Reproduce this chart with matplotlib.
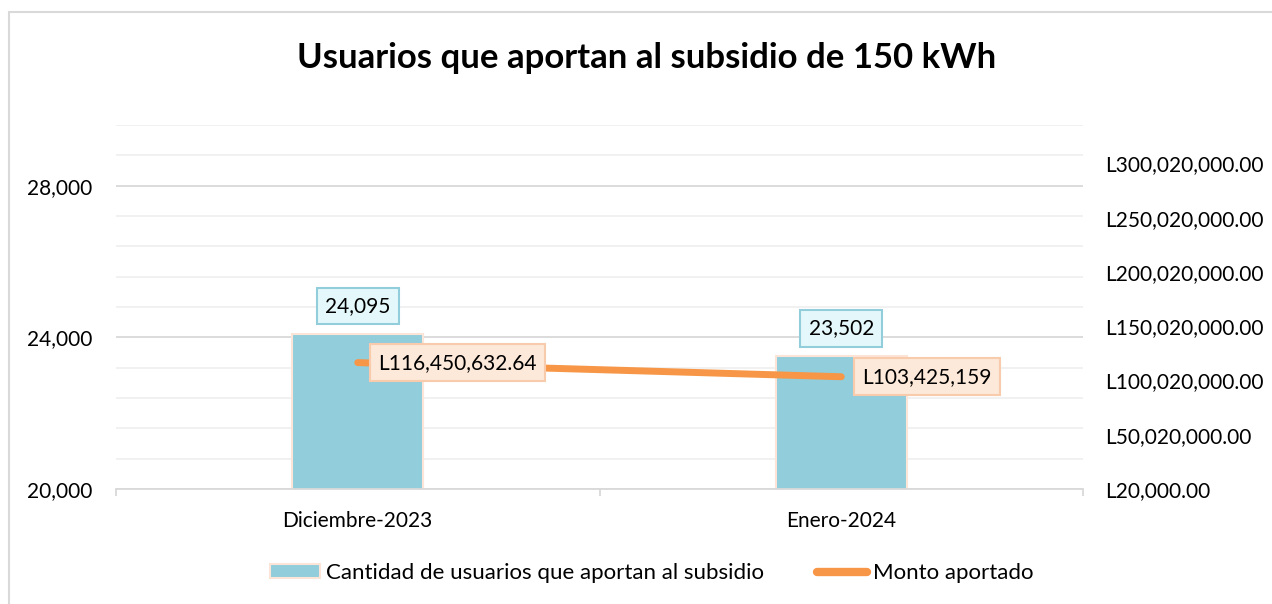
import matplotlib
matplotlib.use("Agg")
from matplotlib import pyplot as plt
from matplotlib.patches import Rectangle
from matplotlib.lines import Line2D
from matplotlib.ticker import FuncFormatter, MultipleLocator

# data
meses = ["Diciembre-2023", "Enero-2024"]
usuarios = [24095, 23502]
monto = [116450632.64, 103425159]
monto_labels = ["L116,450,632.64", "L103,425,159"]

plt.rcParams['font.family'] = ['Lato', 'DejaVu Sans']

fig = plt.figure(figsize=(12.72, 6.04), dpi=100)
# outer chart frame
fig.patches.append(Rectangle((9 / 1272, -0.1), 1.2, (604 - 12) / 604 + 0.1,
                             transform=fig.transFigure, fill=False,
                             edgecolor="#d9d9d9", linewidth=1.5))

ax = fig.add_axes([116 / 1272, (604 - 489) / 604, (1083 - 116) / 1272, (489 - 125) / 604])
x = list(range(len(meses)))

ax.bar(x, usuarios, width=0.27, color="#92cddc", edgecolor="#fce4d6", linewidth=1.5, zorder=2)
ax.set_xlim(-0.5, 1.5)
ax.set_ylim(20000, 29600)
ax.yaxis.set_major_locator(MultipleLocator(4000))
ax.yaxis.set_minor_locator(MultipleLocator(800))
ax.yaxis.set_major_formatter(FuncFormatter(lambda v, p: f"{v:,.0f}"))
ax.grid(axis="y", which="major", color="#d9d9d9", linewidth=1.3, zorder=0)
ax.grid(axis="y", which="minor", color="#f0f0f0", linewidth=1.3, zorder=0)
ax.set_axisbelow(True)
for s in ["top", "right", "left"]:
    ax.spines[s].set_visible(False)
ax.spines["bottom"].set_color("#d9d9d9")
ax.spines["bottom"].set_linewidth(1.3)
ax.set_xticks(x)
ax.set_xticklabels(meses, fontsize=15)
ax.set_xticks([-0.5, 0.5, 1.5], minor=True)
ax.tick_params(axis="x", which="major", length=0, pad=16)
ax.tick_params(axis="x", which="minor", length=5, color="#d9d9d9", width=1.3)
ax.tick_params(axis="y", which="both", length=0, labelsize=15, pad=17)

for xi, v in zip(x, usuarios):
    ax.annotate(f"{v:,}", (xi, v), xytext=(0, 20), textcoords="offset points",
                ha="center", va="center", fontsize=15, zorder=5,
                bbox=dict(boxstyle="square,pad=0.4", fc="#e4f8fb", ec="#92cddc", lw=1.5))

ax2 = ax.twinx()
ax2.plot(x, monto, color="#f79646", linewidth=5, solid_capstyle="round", zorder=3)
ax2.set_ylim(20000, 20000 + 335.3e6)
ax2.set_yticks([20000 + k * 50e6 for k in range(7)])
ax2.yaxis.set_major_formatter(FuncFormatter(lambda v, p: f"L{v:,.2f}"))
ax2.tick_params(axis="y", length=0, labelsize=15, pad=16)
for s in ax2.spines.values():
    s.set_visible(False)

for xi, v, lab in zip(x, monto, monto_labels):
    ax2.annotate(lab, (xi, v), xytext=(15, 0), textcoords="offset points",
                 ha="left", va="center", fontsize=15, zorder=5,
                 bbox=dict(boxstyle="square,pad=0.4", fc="#fde9d9", ec="#f8cbad", lw=1.5))

fig.text(647 / 1272, 1 - 58 / 604, "Usuarios que aportan al subsidio de 150 kWh",
         ha="center", va="center", fontsize=25, fontweight="bold")

handles = [Rectangle((0, 0), 1, 1, fc="#92cddc", ec="#fce4d6", lw=1.5),
           Line2D([0], [0], color="#f79646", linewidth=6, solid_capstyle="round")]
fig.legend(handles, ["Cantidad de usuarios que aportan al subsidio", "Monto aportado"],
           loc="center", bbox_to_anchor=(652 / 1272, 1 - 573 / 604), ncol=2, frameon=False,
           fontsize=16, handlelength=2.25, handleheight=0.6, handletextpad=0.27,
           columnspacing=2.4)

plt.savefig("out.png", dpi=100)
